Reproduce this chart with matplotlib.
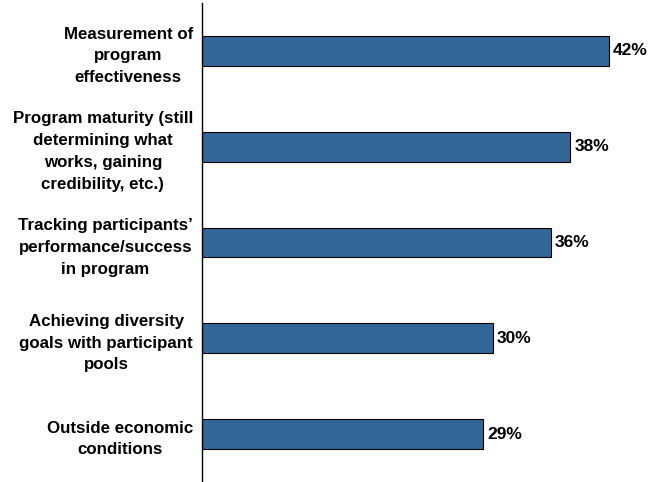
import matplotlib
matplotlib.use("Agg")
import matplotlib.pyplot as plt

categories = [
    "Measurement of\nprogram\neffectiveness",
    "Program maturity (still\ndetermining what\nworks, gaining\ncredibility, etc.)",
    "Tracking participants’\nperformance/success\nin program",
    "Achieving diversity\ngoals with participant\npools",
    "Outside economic\nconditions",
]
values = [42, 38, 36, 30, 29]
value_labels = ["42%", "38%", "36%", "30%", "29%"]

plt.rcParams['font.family'] = ['Liberation Sans', 'DejaVu Sans']

fig = plt.figure(figsize=(6.52, 4.82), dpi=100)
ax = fig.add_axes([201.7/652, 0.0, 1 - 201.7/652, 1 - 3/482])

y = list(range(len(categories)))
ax.barh(y, values, height=0.31, color="#336699", edgecolor="black", linewidth=0.8)
ax.set_ylim(len(categories) - 0.5, -0.5)
ax.set_xlim(0, 450.3/9.705)

for yi, v, lab in zip(y, values, value_labels):
    ax.text(v + 0.4, yi, lab, va="center", ha="left", fontsize=12.5, fontweight="bold")

ax.set_yticks(y)
ax.set_yticklabels(categories, fontsize=12.2, fontweight="bold", linespacing=1.56,
                   ha="right", multialignment="center")
ax.tick_params(axis="y", length=0, pad=6.3)
ax.set_xticks([])
for s in ["top", "right", "bottom"]:
    ax.spines[s].set_visible(False)
ax.spines["left"].set_linewidth(1.0)
ax.spines["left"].set_color("black")

fig.savefig("out.png", dpi=100)
